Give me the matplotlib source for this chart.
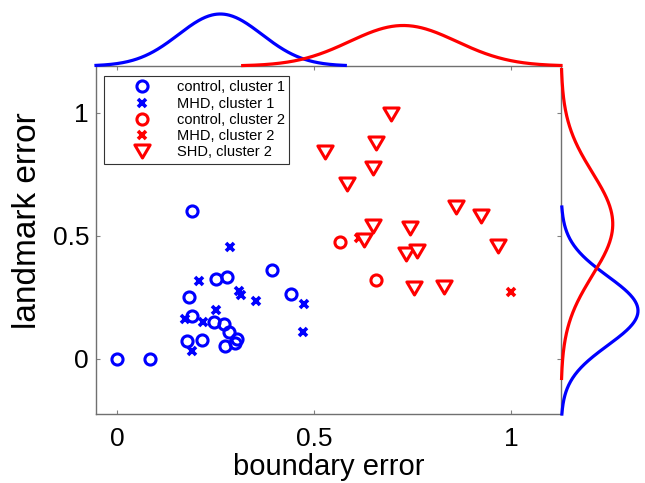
import numpy as np
import matplotlib.pyplot as plt
from matplotlib.path import Path

plt.rcParams['font.family'] = ['Liberation Sans', 'DejaVu Sans']

# cluster 1 (blue)
control_c1_x = [0.190, 0.0, 0.085, 0.251, 0.280, 0.394, 0.443, 0.182, 0.190,
                0.246, 0.272, 0.285, 0.304, 0.299, 0.275, 0.216, 0.178]
control_c1_y = [0.599, 0.0, 0.0, 0.325, 0.332, 0.360, 0.264, 0.252, 0.175,
                0.148, 0.140, 0.111, 0.081, 0.065, 0.053, 0.076, 0.073]
mhd_c1_x = [0.286, 0.208, 0.310, 0.316, 0.353, 0.475, 0.472, 0.252, 0.174, 0.219, 0.191]
mhd_c1_y = [0.455, 0.316, 0.275, 0.259, 0.234, 0.224, 0.110, 0.199, 0.161, 0.148, 0.034]

# cluster 2 (red)
control_c2_x = [0.567, 0.657]
control_c2_y = [0.473, 0.322]
mhd_c2_x = [1.0, 0.615]
mhd_c2_y = [0.272, 0.492]
shd_c2_x = [0.695, 0.657, 0.529, 0.651, 0.583, 0.860, 0.925, 0.650,
            0.743, 0.628, 0.966, 0.733, 0.761, 0.755, 0.830]
shd_c2_y = [0.996, 0.877, 0.841, 0.774, 0.710, 0.619, 0.581, 0.538,
            0.530, 0.484, 0.459, 0.425, 0.439, 0.286, 0.293]

legend_labels = ['control, cluster 1', 'MHD, cluster 1', 'control, cluster 2',
                 'MHD, cluster 2', 'SHD, cluster 2']
x_ticks = [0, 0.5, 1]
x_tick_labels = ['0', '0.5', '1']
y_ticks = [0, 0.5, 1]
y_tick_labels = ['0', '0.5', '1']
x_range = (-0.053, 1.127)
y_range = (-0.224, 1.19)

# MATLAB style downward triangle (a bit wider than tall)
tri = Path([(-1, 0.85), (1, 0.85), (0, -0.85), (-1, 0.85)], closed=True)


def gauss_curve(vals, lo, hi, n=300):
    ''' normal fit of the values, drawn over mean +- 3 sd '''
    m = np.mean(vals)
    s = np.std(vals, ddof=1)
    t = np.linspace(max(m - 3 * s, lo), min(m + 3 * s, hi), n)
    return t, np.exp(-0.5 * ((t - m) / s) ** 2) / (s * np.sqrt(2 * np.pi))


W, H = 645, 483
fig = plt.figure(figsize=(W / 100, H / 100), dpi=100)
ax = fig.add_axes([96 / W, 69 / H, 465 / W, 348 / H])
ax_top = fig.add_axes([96 / W, 417 / H, 465 / W, 66 / H])
ax_right = fig.add_axes([561 / W, 69 / H, 84 / W, 348 / H])

ax.plot(control_c1_x, control_c1_y, 'o', ls='none', color='blue', mfc='none', ms=8, mew=2.2)
ax.plot(mhd_c1_x, mhd_c1_y, 'x', ls='none', color='blue', ms=5.5, mew=2.6)
ax.plot(control_c2_x, control_c2_y, 'o', ls='none', color='red', mfc='none', ms=8, mew=2.2)
ax.plot(mhd_c2_x, mhd_c2_y, 'x', ls='none', color='red', ms=5.5, mew=2.6)
ax.plot(shd_c2_x, shd_c2_y, marker=tri, ls='none', color='red', mfc='white', ms=11,
        mew=2.2)

ax.set_xlim(x_range)
ax.set_ylim(y_range)
ax.set_xticks(x_ticks, x_tick_labels)
ax.set_yticks(y_ticks, y_tick_labels)
ax.tick_params(direction='in', length=3, width=0.8, color='#808080', labelsize=19,
               top=True, right=True)
ax.tick_params(axis='x', pad=9)
ax.tick_params(axis='y', pad=5)
for sp in ax.spines.values():
    sp.set_color('#707070')
    sp.set_linewidth(1)

ax.set_xlabel('boundary error', fontsize=21)
ax.set_ylabel('landmark error', fontsize=24)
ax.xaxis.set_label_coords(0.5, -0.112)
ax.yaxis.set_label_coords(-0.115, 0.557)

leg = ax.legend(legend_labels, loc='upper left', bbox_to_anchor=(0.017, 0.971),
                borderaxespad=0, fontsize=10.5, fancybox=False, edgecolor='#333333',
                framealpha=1, borderpad=0.3, handlelength=4.6, handletextpad=0.1,
                labelspacing=0.15, numpoints=1)
leg.get_frame().set_linewidth(0.8)

# marginal normal fits
c1_x = control_c1_x + mhd_c1_x
c1_y = control_c1_y + mhd_c1_y
c2_x = control_c2_x + mhd_c2_x + shd_c2_x
c2_y = control_c2_y + mhd_c2_y + shd_c2_y

tb, pb = gauss_curve(c1_x, *x_range)
tr, pr = gauss_curve(c2_x, *x_range)
ax_top.plot(tb, pb, color='blue', lw=2.3, clip_on=False)
ax_top.plot(tr, pr, color='red', lw=2.3, clip_on=False)
ax_top.set_xlim(x_range)
ax_top.set_ylim(0, pb.max() * 66 / 52)
ax_top.axis('off')

tb, pb = gauss_curve(c1_y, *y_range)
tr, pr = gauss_curve(c2_y, *y_range)
ax_right.plot(pb, tb, color='blue', lw=2.3, clip_on=False)
ax_right.plot(pr, tr, color='red', lw=2.3, clip_on=False)
ax_right.set_ylim(y_range)
ax_right.set_xlim(0, pb.max() * 84 / 77)
ax_right.axis('off')

fig.savefig('out.png', dpi=100)
